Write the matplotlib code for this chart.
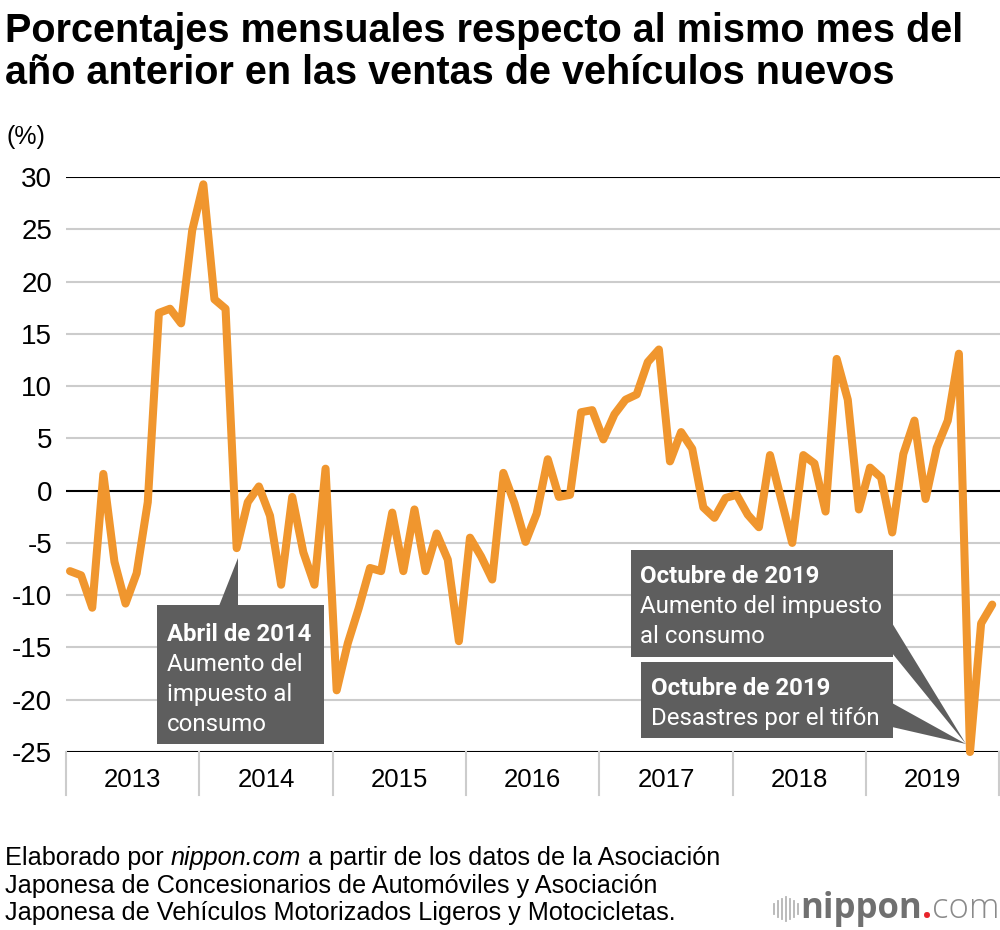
import numpy as np
import matplotlib
matplotlib.use('Agg')
import matplotlib.pyplot as plt
from matplotlib.patches import Polygon, Rectangle
from matplotlib.lines import Line2D

plt.rcParams['font.family'] = ['Liberation Sans', 'DejaVu Sans']
plt.rcParams['axes.unicode_minus'] = False

# Year-on-year change in new vehicle sales, monthly, Jan 2013 - Dec 2019 (%)
years = ['2013', '2014', '2015', '2016', '2017', '2018', '2019']
ventas = [
    -7.7, -8.1, -11.2, 1.6, -6.8, -10.8, -7.9, -1.1, 17.0, 17.4, 16.0, 24.9,
    29.3, 18.3, 17.4, -5.5, -1.1, 0.4, -2.4, -9.0, -0.6, -5.9, -9.0, 2.1,
    -19.1, -14.6, -11.2, -7.4, -7.7, -2.1, -7.7, -1.8, -7.7, -4.1, -6.6, -14.4,
    -4.5, -6.3, -8.5, 1.7, -1.2, -4.9, -2.2, 3.0, -0.6, -0.4, 7.5, 7.7,
    4.9, 7.3, 8.7, 9.2, 12.3, 13.5, 2.8, 5.6, 4.0, -1.6, -2.6, -0.7,
    -0.4, -2.3, -3.5, 3.4, -0.8, -5.0, 3.4, 2.6, -2.0, 12.6, 8.7, -1.8,
    2.2, 1.25, -4.0, 3.5, 6.7, -0.8, 4.1, 6.7, 13.1, -25.0, -12.7, -10.9,
]
meses = np.arange(len(ventas))
yticks = [30, 25, 20, 15, 10, 5, 0, -5, -10, -15, -20, -25]

# annotated months (index in ventas)
idx_abril14 = 15
idx_oct19 = 81

W, H = 1000, 930
fig = plt.figure(figsize=(W / 100, H / 100), dpi=100)
fig.patch.set_facecolor('white')


def fx(px):
    return px / W


def fy(py):
    return 1 - py / H


ax = fig.add_axes([fx(66), fy(752), fx(1000) - fx(66), fy(177) - fy(752)])
ax.set_xlim(-0.36, 83.7)
ax.set_ylim(-25, 30)
for s in ax.spines.values():
    s.set_visible(False)
ax.set_xticks([])
ax.set_yticks(yticks)
ax.set_yticklabels([str(v) for v in yticks])
ax.tick_params(axis='y', length=0, pad=10, labelsize=20)

for v in yticks:
    c = 'black' if v in (30, 0, -25) else '#cccccc'
    ax.axhline(v, color=c, lw=1.5, zorder=1)

ax.plot(meses, ventas, color='#f0962e', lw=5.8, solid_joinstyle='round',
        solid_capstyle='round', zorder=3, clip_on=False)

# year separators and labels below the axis
for k in range(len(years) + 1):
    xb = 12 * k - 0.36
    ax.plot([xb, xb], [-25, -29.1], color='#cccccc', lw=1.5, clip_on=False, zorder=1)
for k, yr in enumerate(years):
    ax.text(12 * k + 5.64, -27.7, yr, ha='center', va='center', fontsize=18.5,
            clip_on=False)

fig.text(fx(7), fy(137), '(%)', ha='left', va='center', fontsize=18)

fig.text(fx(5), fy(12), 'Porcentajes mensuales respecto al mismo mes del\n'
         'año anterior en las ventas de vehículos nuevos',
         ha='left', va='top', fontsize=28.5, fontweight='bold', linespacing=1.15)

# callouts
box_col = '#5e5e5e'
fig.canvas.draw()


def to_px(xd, yd):
    x, y = ax.transData.transform((xd, yd))
    return x, H - y


def rect(x0, y0, x1, y1):
    fig.patches.append(Rectangle((fx(x0), fy(y1)), fx(x1) - fx(x0), fy(y0) - fy(y1),
                                 transform=fig.transFigure, facecolor=box_col,
                                 edgecolor='none', zorder=4))


def tri(pts):
    fig.patches.append(Polygon([(fx(a), fy(b)) for a, b in pts], closed=True,
                               transform=fig.transFigure, facecolor=box_col,
                               edgecolor='none', zorder=4))


ann = ['Roboto', 'DejaVu Sans']
fs_ann = 17.3

# Abril 2014
tx, ty = to_px(meses[idx_abril14], ventas[idx_abril14])
rect(157, 605, 324, 744)
tri([(219, 606), (tx + 1, 606), (tx + 1, ty + 10)])
fig.text(fx(167), fy(641), 'Abril de 2014', color='white', fontsize=fs_ann,
         fontweight='bold', family=ann, va='baseline', zorder=5)
for i, line in enumerate(['Aumento del', 'impuesto al', 'consumo']):
    fig.text(fx(167), fy(671 + 30 * i), line, color='white', fontsize=fs_ann,
             family=ann, va='baseline', zorder=5)

# Octubre 2019
tx, ty = to_px(meses[idx_oct19], ventas[idx_oct19])
tip = (tx - 4, ty - 8)
rect(631, 550, 893, 657)
tri([(892, 623), (892, 653), tip])
rect(641, 662, 893, 738)
tri([(892, 703), (892, 727), tip])
fig.text(fx(640), fy(583), 'Octubre de 2019', color='white', fontsize=fs_ann,
         fontweight='bold', family=ann, va='baseline', zorder=5)
fig.text(fx(640), fy(613), 'Aumento del impuesto', color='white', fontsize=fs_ann,
         family=ann, va='baseline', zorder=5)
fig.text(fx(640), fy(643), 'al consumo', color='white', fontsize=fs_ann,
         family=ann, va='baseline', zorder=5)
fig.text(fx(651), fy(695), 'Octubre de 2019', color='white', fontsize=fs_ann,
         fontweight='bold', family=ann, va='baseline', zorder=5)
fig.text(fx(651), fy(725), 'Desastres por el tifón', color='white', fontsize=fs_ann,
         family=ann, va='baseline', zorder=5)

# source note
renderer = fig.canvas.get_renderer()
fs_note = 18.2
t1 = fig.text(fx(5), fy(865), 'Elaborado por ', fontsize=fs_note, va='baseline')
x_next = t1.get_window_extent(renderer).x1
t2 = fig.text(x_next / W, fy(865), 'nippon.com', fontsize=fs_note, style='italic',
              va='baseline')
x_next = t2.get_window_extent(renderer).x1
fig.text(x_next / W, fy(865), ' a partir de los datos de la Asociación',
         fontsize=fs_note, va='baseline')
fig.text(fx(5), fy(893), 'Japonesa de Concesionarios de Automóviles y Asociación',
         fontsize=fs_note, va='baseline')
fig.text(fx(5), fy(920), 'Japonesa de Vehículos Motorizados Ligeros y Motocicletas.',
         fontsize=fs_note, va='baseline')

# logo
bar_h = [10, 16, 20, 24, 20, 16, 10]
for i, h in enumerate(bar_h):
    xb = 774 + 4 * i
    fig.add_artist(Line2D([fx(xb), fx(xb)], [fy(909 + h / 2), fy(909 - h / 2)],
                          transform=fig.transFigure, color='#b5b5b5', lw=1.3))
logo = ['Open Sans', 'DejaVu Sans']
l1 = fig.text(fx(800), fy(918), 'nippon', fontsize=25, fontweight='bold',
              color='#707070', family=logo, va='baseline')
x_next = l1.get_window_extent(renderer).x1
l2 = fig.text(x_next / W, fy(918), '.', fontsize=25, fontweight='bold',
              color='#e8242b', family=logo, va='baseline')
x_next = l2.get_window_extent(renderer).x1
fig.text(x_next / W, fy(918), 'com', fontsize=25, fontweight='light',
         color='#8a8a8a', family=logo, va='baseline')

fig.savefig('out.png', dpi=100)
